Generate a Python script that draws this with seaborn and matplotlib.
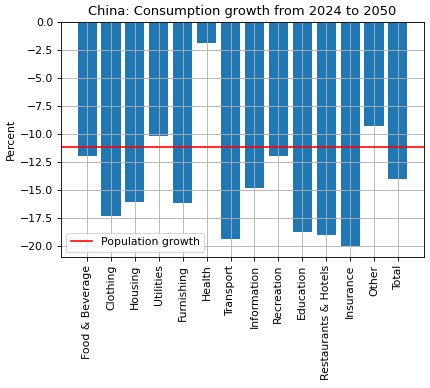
import matplotlib
matplotlib.use("Agg")
import matplotlib.pyplot as plt
import seaborn as sns
import pandas as pd

categories = ["Food & Beverage", "Clothing", "Housing", "Utilities", "Furnishing",
              "Health", "Transport", "Information", "Recreation", "Education",
              "Restaurants & Hotels", "Insurance", "Other", "Total"]
growth = [-12.0, -17.3, -16.1, -10.2, -16.2, -1.9, -19.4, -14.8, -12.0,
          -18.8, -19.0, -20.0, -9.3, -14.0]
population_growth = -11.2

df = pd.DataFrame({"category": categories, "growth": growth})

DPI = 78
fig = plt.figure(figsize=(430 / DPI, 388 / DPI), dpi=DPI)
ax = fig.add_axes([61 / 430, 1 - 257 / 388, (424 - 61) / 430, (257 - 22) / 388])

sns.barplot(data=df, x="category", y="growth", color="#1f77b4", saturation=1,
            width=0.8, ax=ax, errorbar=None)
ax.axhline(population_growth, color="red", label="Population growth")

n = len(categories)
span = (n - 1) + 0.8
ax.set_xlim(-0.4 - 0.05 * span, n - 1 + 0.4 + 0.05 * span)
ax.set_ylim(-21, 0)
ax.grid(True, color="#b0b0b0", linewidth=0.8)
ax.set_axisbelow("line")
ax.set_xlabel("")
ax.set_ylabel("Percent")
ax.set_title("China: Consumption growth from 2024 to 2050", fontsize=12)
ax.tick_params(axis="x", labelrotation=90)
ax.legend(loc="lower left")

fig.savefig("out.png", dpi=DPI)
